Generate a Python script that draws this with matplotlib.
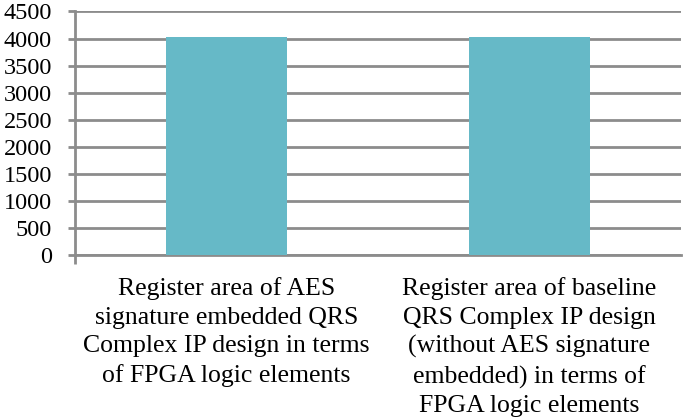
import numpy as np
import matplotlib.pyplot as plt

categories = [
    "Register area of AES\nsignature embedded QRS\nComplex IP design in terms\nof FPGA logic elements",
    "Register area of baseline\nQRS Complex IP design\n(without AES signature\nembedded) in terms of\nFPGA logic elements",
]
values = [4030, 4030]
yticks = list(range(0, 4501, 500))

plt.rcParams['font.family'] = ['Liberation Serif', 'DejaVu Serif']

fig = plt.figure(figsize=(6.85, 4.2), dpi=100)
ax = fig.add_axes([75 / 685, 1 - 255 / 420, 606 / 685, 243.5 / 420])

x = np.arange(len(categories))
ax.bar(x, values, width=0.4, color='#66B9C7', zorder=3)

ax.set_xlim(-0.5, len(categories) - 0.5)
ax.set_ylim(0, 4500)
ax.set_yticks(yticks)
ax.set_yticklabels([str(t) for t in yticks], fontsize=17.5)
ax.yaxis.grid(True, color='#8C8C8C', linewidth=2, zorder=0)

ax.set_xticks(x)
ax.set_xticklabels(categories, fontsize=18.5, linespacing=1.38, va='top')
ax.tick_params(axis='x', length=0, pad=16)
ax.set_xticks([-0.5], minor=True)
ax.tick_params(axis='x', which='minor', length=6.5, width=2, color='#8C8C8C')
ax.tick_params(axis='y', length=5, width=2, color='#8C8C8C', pad=11.5)

for side in ['top', 'right']:
    ax.spines[side].set_visible(False)
for side in ['left', 'bottom']:
    ax.spines[side].set_color('#8C8C8C')
    ax.spines[side].set_linewidth(2)

fig.savefig('out.png', dpi=100)
